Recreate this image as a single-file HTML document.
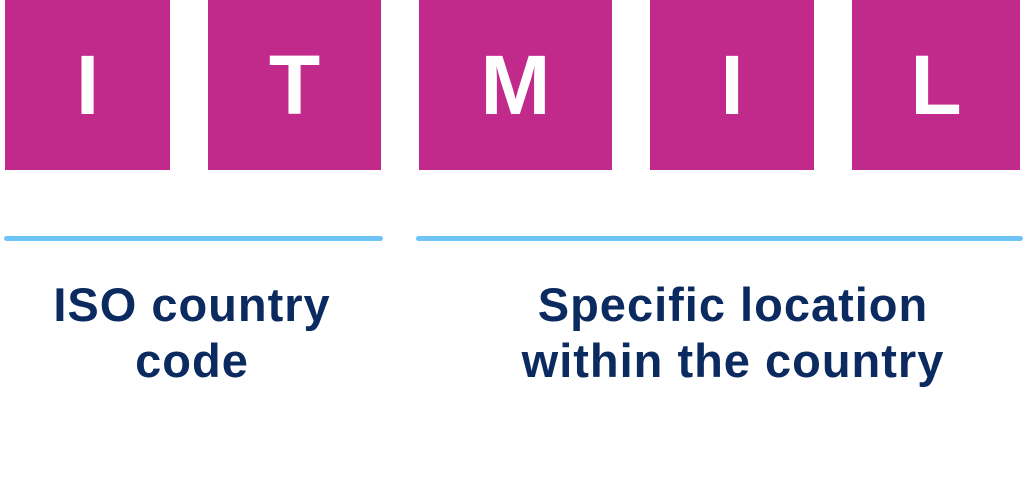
<!DOCTYPE html>
<html><head><style>
body{margin:0;width:1024px;height:503px;background:#fff;position:relative;overflow:hidden;font-family:"Liberation Sans",sans-serif}
.b{position:absolute;top:0;height:170px;background:#C1298B;color:#fff;font-weight:bold;font-size:84px;display:flex;align-items:center;justify-content:center;line-height:1}
.l{position:absolute;top:236px;height:5px;border-radius:3px;background:#6CC4F7}
.t{position:absolute;color:#0B2A60;font-weight:bold;font-size:47px;letter-spacing:1px;line-height:56px;text-align:center}
</style></head><body>
<div class="b" style="left:5px;width:165px">I</div>
<div class="b" style="left:208px;width:173px">T</div>
<div class="b" style="left:419px;width:193px">M</div>
<div class="b" style="left:650px;width:164px">I</div>
<div class="b" style="left:852px;width:168px">L</div>
<div class="l" style="left:4px;width:379px"></div>
<div class="l" style="left:416px;width:607px"></div>
<div class="t" style="left:0;width:384px;top:277px">ISO country<br>code</div>
<div class="t" style="left:304px;width:858px;top:277px">Specific location<br>within the country</div>
</body></html>
